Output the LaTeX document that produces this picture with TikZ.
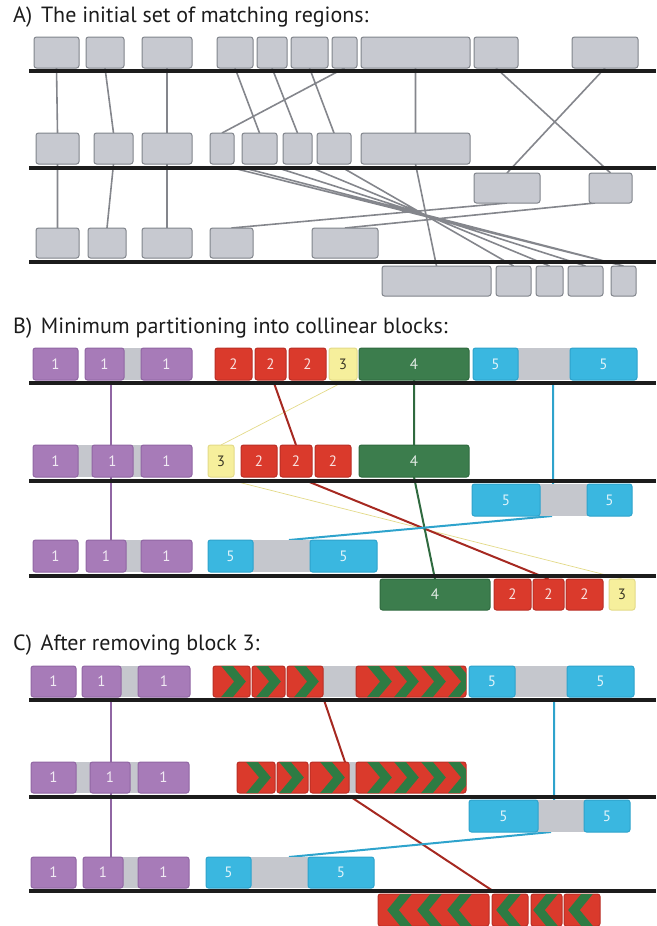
\documentclass[tikz,border=0pt]{standalone}
\usepackage{fontspec}
\setmainfont{PT Sans}
\usetikzlibrary{positioning, calc}
\pgfdeclarelayer{bg}
\pgfsetlayers{bg,main}

\definecolor{boxgray}{HTML}{C7C9D0}
\definecolor{edgegray}{HTML}{80848B}
\definecolor{gapgray}{HTML}{C5C7CD}
\definecolor{plum}{HTML}{A77BB8}
\definecolor{plumedge}{HTML}{9066A3}
\definecolor{brick}{HTML}{DA3A2C}
\definecolor{brickedge}{HTML}{B92E25}
\definecolor{lemon}{HTML}{F6EF9C}
\definecolor{lemonedge}{HTML}{E3DA88}
\definecolor{moss}{HTML}{3C7D4D}
\definecolor{mossedge}{HTML}{2F6A3F}
\definecolor{sky}{HTML}{3AB7E0}
\definecolor{skyedge}{HTML}{2EA3CC}
\definecolor{chev}{HTML}{2E7B43}
\definecolor{ink}{HTML}{1C1C1C}
\definecolor{linkgray}{HTML}{84868C}
\definecolor{darktext}{HTML}{3D3A28}

\tikzset{
  title/.style={anchor=west, inner sep=0pt, text=ink, font=\fontsize{22}{25}\selectfont},
  box/.style={draw, rounded corners=2.5pt, line width=1pt, inner sep=0pt, outer sep=0pt,
              text=white, text opacity=0.85, font=\fontsize{15}{15}\selectfont},
  gbox/.style={box, fill=boxgray, draw=edgegray},
  pbox/.style={box, fill=plum, draw=plumedge},
  rbox/.style={box, fill=brick, draw=brickedge},
  ybox/.style={box, fill=lemon, draw=lemonedge, text=darktext, text opacity=1},
  gnbox/.style={box, fill=moss, draw=mossedge},
  cbox/.style={box, fill=sky, draw=skyedge},
  gap/.style={inner sep=0pt, outer sep=0pt, fill=gapgray},
  rule/.style={line width=3.5pt, draw=ink},
  link/.style={line width=1.6pt, draw=linkgray},
  plink/.style={line width=1.5pt, draw=plumedge},
  rlink/.style={line width=2pt, draw=brickedge!90!black},
  ylink/.style={line width=0.7pt, draw=lemonedge},
  glink/.style={line width=2pt, draw=mossedge},
  clink/.style={line width=2pt, draw=skyedge},
  chevron/.style={line width=9pt, draw=chev, line join=miter}
}

% box from x1 to x2, top y, height h
\newcommand\blk[7]{\node[#1, anchor=north west, minimum width={(#4-#3)*1pt},
  minimum height={#6*1pt}] (#2) at (#3,#5) {#7};}
% chevrons in a box: node, offset of arms, tip shift, spacing, count
\newcommand\chevs[5]{%
  \begin{scope}
    \clip[rounded corners=2.5pt] (#1.north west) rectangle (#1.south east);
    \foreach \k in {1,...,#5}{
      \pgfmathsetmacro\ax{#2+#4*(\k-1)}
      \pgfmathsetmacro\tx{\ax+#3}
      \pgfmathsetmacro\bx{\ax-0.25*#3}
      \draw[chevron] ($(#1.north west)+(\bx,-4)$) -- ($(#1.west)+(\tx,0)$)
                     -- ($(#1.south west)+(\bx,4)$);
    }
  \end{scope}}

\begin{document}
\begin{tikzpicture}[x=1pt, y=-1pt]
  \useasboundingbox (0,0) rectangle (656,926);

  %% A) initial set
  \node[title] (ta) at (13,17) {A)\hspace{0.4em}The initial set of matching regions:};
  \blk{gbox}{a11}{34}{79}{37}{31}{}
  \blk{gbox}{a12}{86}{124}{37}{31}{}
  \blk{gbox}{a13}{142}{192}{37}{31}{}
  \blk{gbox}{a14}{217}{253}{37}{31}{}
  \blk{gbox}{a15}{257}{287}{37}{31}{}
  \blk{gbox}{a16}{291}{328}{37}{31}{}
  \blk{gbox}{a17}{332}{357}{37}{31}{}
  \blk{gbox}{a18}{361}{470}{37}{31}{}
  \blk{gbox}{a19}{474}{518}{37}{31}{}
  \blk{gbox}{a1t}{572}{638}{37}{31}{}

  \blk{gbox}{a21}{36}{79}{133}{31}{}
  \blk{gbox}{a22}{94}{133}{133}{31}{}
  \blk{gbox}{a23}{142}{192}{133}{31}{}
  \blk{gbox}{a24}{210}{234}{133}{31}{}
  \blk{gbox}{a25}{242}{277}{133}{31}{}
  \blk{gbox}{a26}{283}{312}{133}{31}{}
  \blk{gbox}{a27}{317}{351}{133}{31}{}
  \blk{gbox}{a28}{361}{470}{133}{31}{}
  \blk{gbox}{a2p}{474}{540}{173}{30}{}
  \blk{gbox}{a2q}{589}{632}{173}{30}{}

  \blk{gbox}{a31}{36}{79}{228}{30}{}
  \blk{gbox}{a32}{88}{126}{228}{30}{}
  \blk{gbox}{a33}{142}{192}{228}{30}{}
  \blk{gbox}{a34}{210}{253}{228}{30}{}
  \blk{gbox}{a35}{312}{378}{228}{30}{}
  \blk{gbox}{a3p}{382}{491}{266}{30}{}
  \blk{gbox}{a3q}{496}{531}{266}{30}{}
  \blk{gbox}{a3r}{536}{563}{266}{30}{}
  \blk{gbox}{a3s}{568}{603}{266}{30}{}
  \blk{gbox}{a3t}{611}{636}{266}{30}{}

  \draw[rule] (29,71) -- (656,71) (29,168) -- (656,168) (29,262) -- (656,262);

  \coordinate (x1) at (233,168);
  \coordinate (x2) at (244,168);
  \coordinate (x3) at (278,168);
  \coordinate (x4) at (312,168);
  \coordinate (x5) at (343,168);
  \coordinate (xq) at (595,203);
  \begin{pgfonlayer}{bg}
    \draw[link] (a11.south) -- (a21.north) (a12.south) -- (a22.north) (a13.south) -- (a23.north)
                (a14.south) -- (a25.north) (a15.south) -- (a26.north) (a16.south) -- (a27.north)
                (a17.south) -- (a24.north) (a18.south) -- (a28.north)
                (a19.south) -- (a2q.north) (a1t.south) -- (a2p.north)
                (a21.south) -- (a31.north) (a22.south) -- (a32.north) (a23.south) -- (a33.north)
                (a28.south) -- (a3p.north) (a2p.south) -- (a34.north) (xq) -- (a35.north)
                (x1) -- (a3t.north) (x2) -- (a3t.north) (x3) -- (a3s.north)
                (x4) -- (a3r.north) (x5) -- (a3q.north);
  \end{pgfonlayer}

  %% B) collinear blocks
  \node[title] (tb) at (13,328) {B)\hspace{0.4em}Minimum partitioning into collinear blocks:};
  \blk{gap}{b1g}{120}{145}{348}{32}{}
  \blk{gap}{b1h}{515}{573}{348}{32}{}
  \blk{pbox}{b11}{33}{78}{348}{32}{1}
  \blk{pbox}{b12}{85}{124}{348}{32}{1}
  \blk{pbox}{b13}{141}{192}{348}{32}{1}
  \blk{rbox}{b14}{215}{252}{348}{32}{2}
  \blk{rbox}{b15}{255}{286}{348}{32}{2}
  \blk{rbox}{b16}{289}{326}{348}{32}{2}
  \blk{ybox}{b17}{329}{357}{348}{32}{3}
  \blk{gnbox}{b18}{359}{469}{348}{32}{4}
  \blk{cbox}{b19}{473}{518}{348}{32}{5}
  \blk{cbox}{b1t}{570}{637}{348}{32}{5}

  \blk{gap}{b2g}{75}{95}{445}{32}{}
  \blk{gap}{b2h}{130}{144}{445}{32}{}
  \blk{pbox}{b21}{33}{78}{445}{32}{1}
  \blk{pbox}{b22}{92}{133}{445}{32}{1}
  \blk{pbox}{b23}{141}{192}{445}{32}{1}
  \blk{ybox}{b24}{208}{234}{445}{32}{3}
  \blk{rbox}{b25}{241}{277}{445}{32}{2}
  \blk{rbox}{b26}{280}{312}{445}{32}{2}
  \blk{rbox}{b27}{315}{351}{445}{32}{2}
  \blk{gnbox}{b28}{359}{469}{445}{32}{4}
  \blk{gap}{b2i}{537}{590}{484}{32}{}
  \blk{cbox}{b2p}{472}{540}{484}{32}{5}
  \blk{cbox}{b2q}{587}{632}{484}{32}{5}

  \blk{gap}{b3g}{123}{144}{540}{32}{}
  \blk{gap}{b3h}{250}{313}{540}{32}{}
  \blk{pbox}{b31}{33}{78}{540}{32}{1}
  \blk{pbox}{b32}{86}{126}{540}{32}{1}
  \blk{pbox}{b33}{141}{192}{540}{32}{1}
  \blk{cbox}{b34}{208}{253}{540}{32}{5}
  \blk{cbox}{b35}{310}{377}{540}{32}{5}
  \blk{gnbox}{b3p}{380}{490}{579}{31}{4}
  \blk{rbox}{b3q}{494}{531}{579}{31}{2}
  \blk{rbox}{b3r}{533}{564}{579}{31}{2}
  \blk{rbox}{b3s}{566}{603}{579}{31}{2}
  \blk{ybox}{b3t}{609}{635}{579}{31}{3}

  \draw[rule] (29,383) -- (656,383) (29,481) -- (656,481) (29,576) -- (656,576);

  \coordinate (bp1) at (111,383);
  \coordinate (bp2) at (111,540);
  \coordinate (br1) at (274,383);
  \coordinate (br2) at (307,481);
  \coordinate (by1) at (341,383);
  \coordinate (by2) at (234,481);
  \coordinate (bc1) at (553,383);
  \coordinate (bc2) at (553,484);
  \coordinate (bc3) at (552,516);
  \coordinate (bc4) at (289,540);
  \begin{pgfonlayer}{bg}
    \draw[plink] (bp1) -- (bp2);
    \draw[ylink] (by1) -- (b24.north) (by2) -- (b3t.north);
    \draw[rlink] (br1) -- (b26.north) (br2) -- (b3r.north);
    \draw[glink] (b18.south) -- (b28.north) (b28.south) -- (b3p.north);
    \draw[clink] (bc1) -- (bc2) (bc3) -- (bc4);
  \end{pgfonlayer}

  %% C) without block 3
  \node[title] (tc) at (13,645) {C)\hspace{0.4em}After removing block 3:};
  \blk{gap}{c1g}{118}{141}{666}{31}{}
  \blk{gap}{c1h}{320}{359}{666}{31}{}
  \blk{gap}{c1i}{512}{570}{666}{31}{}
  \blk{pbox}{c11}{31}{76}{666}{31}{1}
  \blk{pbox}{c12}{82}{121}{666}{31}{1}
  \blk{pbox}{c13}{138}{190}{666}{31}{1}
  \blk{rbox}{c14}{213}{250}{666}{31}{}
  \blk{rbox}{c15}{252}{285}{666}{31}{}
  \blk{rbox}{c16}{287}{323}{666}{31}{}
  \blk{rbox}{c17}{356}{466}{666}{31}{}
  \blk{cbox}{c18}{469}{515}{666}{31}{5}
  \blk{cbox}{c19}{567}{634}{666}{31}{5}
  \chevs{c14}{14}{13}{27}{1}
  \chevs{c15}{10}{13}{27}{1}
  \chevs{c16}{13}{13}{27}{1}
  \chevs{c17}{17}{13}{27}{4}

  \blk{gap}{c2g}{73}{93}{762}{31}{}
  \blk{gap}{c2h}{127}{141}{762}{31}{}
  \blk{gap}{c2i}{346}{359}{762}{31}{}
  \blk{pbox}{c21}{31}{76}{762}{31}{1}
  \blk{pbox}{c22}{90}{130}{762}{31}{1}
  \blk{pbox}{c23}{138}{189}{762}{31}{1}
  \blk{rbox}{c24}{237}{275}{762}{31}{}
  \blk{rbox}{c25}{277}{308}{762}{31}{}
  \blk{rbox}{c26}{310}{349}{762}{31}{}
  \blk{rbox}{c27}{356}{466}{762}{31}{}
  \chevs{c24}{15}{13}{27}{1}
  \chevs{c25}{8}{13}{27}{1}
  \chevs{c26}{16}{13}{27}{1}
  \chevs{c27}{17}{13}{27}{4}
  \blk{gap}{c2j}{535}{587}{800}{32}{}
  \blk{cbox}{c2p}{469}{538}{800}{32}{5}
  \blk{cbox}{c2q}{584}{630}{800}{32}{5}

  \blk{gap}{c3g}{120}{141}{857}{31}{}
  \blk{gap}{c3h}{248}{311}{857}{31}{}
  \blk{pbox}{c31}{31}{76}{857}{31}{1}
  \blk{pbox}{c32}{83}{123}{857}{31}{1}
  \blk{pbox}{c33}{138}{189}{857}{31}{1}
  \blk{cbox}{c34}{206}{251}{857}{31}{5}
  \blk{cbox}{c35}{308}{374}{857}{31}{5}
  \blk{rbox}{c3p}{378}{489}{894}{32}{}
  \blk{rbox}{c3q}{492}{528}{894}{32}{}
  \blk{rbox}{c3r}{531}{562}{894}{32}{}
  \blk{rbox}{c3s}{564}{600}{894}{32}{}
  \chevs{c3p}{28}{-13}{30}{3}
  \chevs{c3q}{23}{-13}{30}{1}
  \chevs{c3r}{21}{-13}{30}{1}
  \chevs{c3s}{23}{-13}{30}{1}

  \draw[rule] (29,700) -- (656,700) (29,797) -- (656,797) (29,891) -- (656,891);

  \coordinate (cp1) at (111,700);
  \coordinate (cp2) at (111,857);
  \coordinate (cr1) at (324,700);
  \coordinate (cr2) at (345,762);
  \coordinate (cr3) at (351,797);
  \coordinate (cr4) at (493,891);
  \coordinate (cc1) at (554,700);
  \coordinate (cc2) at (554,800);
  \coordinate (cc3) at (551,832);
  \coordinate (cc4) at (289,857);
  \begin{pgfonlayer}{bg}
    \draw[plink] (cp1) -- (cp2);
    \draw[rlink] (cr1) -- (cr2) (cr3) -- (cr4);
    \draw[clink] (cc1) -- (cc2) (cc3) -- (cc4);
  \end{pgfonlayer}
\end{tikzpicture}
\end{document}
